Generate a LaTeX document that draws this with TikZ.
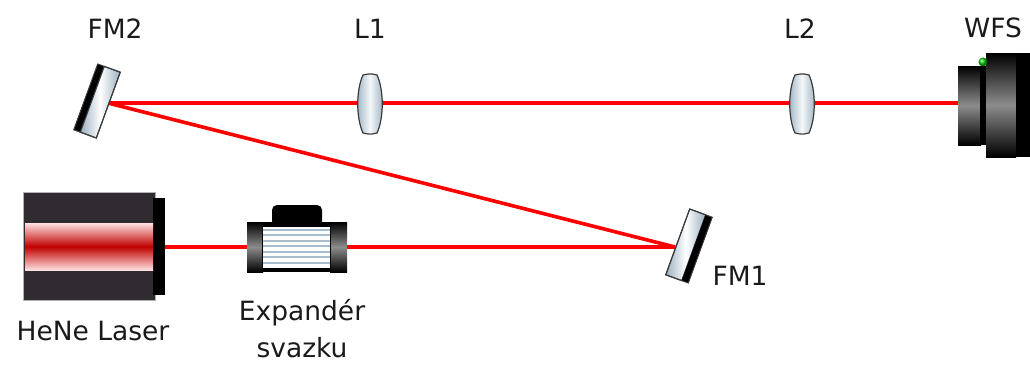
\documentclass[tikz,border=0pt]{standalone}
\usepackage{fontspec}
\setmainfont{DejaVu Sans}
\begin{document}
\begin{tikzpicture}[x=1pt,y=-1pt,
  beam/.style={draw=beamred, line width=3.6pt},
  lbl/.style={font=\fontsize{26.5}{30}\selectfont, text=labelgray, anchor=base, inner sep=0pt},
  glass/.style={draw=rimgray, line width=1.1pt, left color=glassblue, right color=glassblue, middle color=white},
  lensbody/.style={draw=rimgray, line width=1.2pt, left color=glassblue, right color=glassblue, middle color=glasswhite},
  darkcyl/.style={top color=black, bottom color=black, middle color=cylgray}
]
\definecolor{beamred}{HTML}{FF0000}
\definecolor{labelgray}{HTML}{1A1A1A}
\definecolor{rimgray}{HTML}{3A3A3A}
\definecolor{glassblue}{HTML}{9BB0C0}
\definecolor{glasswhite}{HTML}{F4F8FA}
\definecolor{cylgray}{HTML}{8C8C8C}
\definecolor{laserbody}{HTML}{2F2B31}
\definecolor{stripeblue}{HTML}{A8BECE}
\useasboundingbox (0,0) rectangle (1030,365);

% beam path points
\coordinate (laserout) at (165,247);
\coordinate (fm1hit) at (675,247);
\coordinate (fm2hit) at (108,103);
\coordinate (wfsin) at (958,103);

% laser beam
\draw[beam] (laserout) -- (fm1hit);
\draw[beam] (fm1hit) -- (fm2hit);
\draw[beam] (fm2hit) -- (wfsin);

% HeNe laser
\fill[laserbody] (23,192) rectangle (155,300);
\draw[gray!60, line width=0.6pt] (23,192) rectangle (155,300);
\fill[black] (153,198) rectangle (165,295);
\shade[top color=red!12, bottom color=red!12, middle color=red!75!black]
  (25,223) rectangle (153,270);

% beam expander
\fill[black, rounded corners=5pt] (272,205) rectangle (322,226);
\shade[darkcyl] (247,222) rectangle (263,272);
\shade[darkcyl] (330,222) rectangle (347,272);
\fill[black] (262,222) rectangle (331,272);
\fill[white] (263,227) rectangle (330,268);
\foreach \yy in {229.5,235,240.5,246,251.5,257,262.5}
  \draw[stripeblue, line width=2pt] (263,\yy) -- (330,\yy);

% folding mirrors
\begin{scope}[shift={(97,101)}, rotate=-20]
  \fill[black] (-12,-35) rectangle (-5,35);
  \shade[glass] (-5,-35) rectangle (12,35);
  \draw[rimgray, line width=1pt] (-12,-35) rectangle (12,35);
\end{scope}
\begin{scope}[shift={(689,246)}, rotate=-20]
  \shade[glass] (-12,-35) rectangle (5,35);
  \fill[black] (5,-35) rectangle (12,35);
  \draw[rimgray, line width=1pt] (-12,-35) rectangle (12,35);
\end{scope}

% lenses
\foreach \cx in {370,802}{
  \begin{scope}[shift={(\cx,104)}]
    \shade[lensbody]
      (-7,-29) .. controls (0,-30.5) .. (7,-29)
      .. controls (14,-14) and (14,14) .. (7,29)
      .. controls (0,30.5) .. (-7,29)
      .. controls (-14,14) and (-14,-14) .. (-7,-29) -- cycle;
  \end{scope}
}

% wavefront sensor
\shade[darkcyl] (958,66) rectangle (981,145);
\fill[black] (980,66) rectangle (986,145);
\shade[darkcyl] (986,53) rectangle (1016,157);
\fill[black] (1016,53) rectangle (1030,157);
\shade[ball color=green!80!black] (983,62) circle (4.5);

% labels
\node[lbl] (fm2l) at (115,38) {FM2};
\node[lbl] (l1l) at (370,38) {L1};
\node[lbl] (l2l) at (800,38) {L2};
\node[lbl] (wfsl) at (993,37) {WFS};
\node[lbl] (fm1l) at (740,285) {FM1};
\node[lbl] (laserl) at (93,340) {HeNe Laser};
\node[lbl] (expl) at (302,320) {Expandér};
\node[lbl] (exp2l) at (302,357) {svazku};
\end{tikzpicture}
\end{document}
